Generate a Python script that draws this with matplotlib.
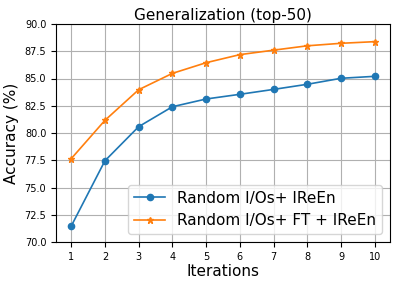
import matplotlib
matplotlib.use("Agg")
import matplotlib.pyplot as plt

iterations = [1, 2, 3, 4, 5, 6, 7, 8, 9, 10]
acc_ireen = [71.45, 77.45, 80.58, 82.41, 83.12, 83.55, 84.0, 84.47, 85.02, 85.2]
acc_ft_ireen = [77.64, 81.16, 83.97, 85.47, 86.45, 87.19, 87.6, 88.0, 88.23, 88.38]
label_ireen = "Random I/Os+ IReEn"
label_ft = "Random I/Os+ FT + IReEn"

fig = plt.figure(figsize=(3.97, 2.85), dpi=100)
ax = fig.add_axes([56/397, 43/285, 334/397, 218/285])
ax.plot(iterations, acc_ireen, marker='o', color='#1f77b4', markersize=4.5, linewidth=1.2, label=label_ireen)
ax.plot(iterations, acc_ft_ireen, marker='*', color='#ff7f0e', markersize=5, linewidth=1.2, label=label_ft)
ax.set_ylim(70, 90)
ax.set_yticks([70.0, 72.5, 75.0, 77.5, 80.0, 82.5, 85.0, 87.5, 90.0])
ax.set_xticks(iterations)
ax.tick_params(labelsize=7)
ax.grid(True, color='#b0b0b0', linewidth=0.8)
ax.set_title("Generalization (top-50)", fontsize=11, pad=3)
ax.set_xlabel("Iterations", fontsize=11, labelpad=2)
ax.set_ylabel("Accuracy (%)", fontsize=11)
ax.legend(loc='lower right', fontsize=11)
fig.savefig("out.png", dpi=100)
